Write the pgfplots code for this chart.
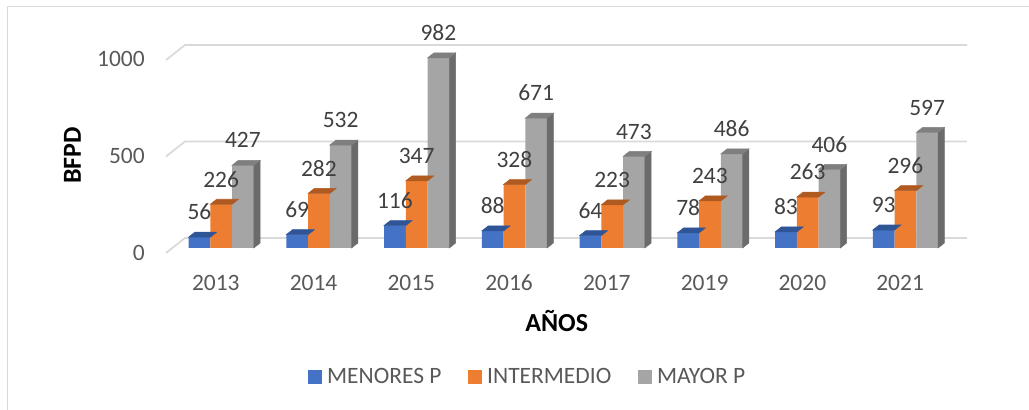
\documentclass[border=0pt]{standalone}
\usepackage{pgfplots}
\pgfplotsset{compat=1.18}
\usepackage{pgfplotstable}
\usepackage{fontspec}
\setmainfont{Carlito}
\definecolor{blueF}{HTML}{4472C4}
\definecolor{blueT}{HTML}{2F5597}
\definecolor{orangeF}{HTML}{ED7D31}
\definecolor{orangeT}{HTML}{AE5A21}
\definecolor{grayF}{HTML}{A5A5A5}
\definecolor{grayT}{HTML}{7F7F7F}
\definecolor{grayS}{HTML}{6B6B6B}
\definecolor{gridc}{HTML}{D9D9D9}
\definecolor{tickc}{HTML}{595959}
\definecolor{labc}{HTML}{404040}
\pgfdeclareplotmark{nothing}{}
\pgfplotstableread{
x menores inter mayor
0 56 226 427
1 69 282 532
2 116 347 982
3 88 328 671
4 64 223 473
5 78 243 486
6 83 263 406
7 93 296 597
}\datatable
\newcommand\topface[2]{\fill[#2] ({#1-8.15pt},0pt) -- ({#1+8.15pt},0pt) -- ({#1+12.875pt},3.75pt) -- ({#1-3.425pt},3.75pt) -- cycle;}
\newcommand\lblfont{\fontsize{17.6}{21}\selectfont}
\newcommand\ttlfont{\fontsize{19.5}{23}\selectfont\bfseries}
\begin{document}
\begin{tikzpicture}
\useasboundingbox (0,0) rectangle (771.75pt,307.5pt);
\draw[gridc, line width=0.75pt] (5.25pt,-2pt) -- (5.25pt,302.25pt) -- (775pt,302.25pt);
\foreach \yb/\yf in {129/117.75, 201.375/190.125, 273.75/262.5}{
  \draw[gridc, line width=1.3pt] (124.5pt,\yf pt) -- (138.75pt,\yb pt) -- (725.25pt,\yb pt);
}
\begin{axis}[
  at={(129.225pt,121.5pt)}, anchor=south west,
  scale only axis, width=586.5pt, height=145.125pt,
  xmin=-0.5, xmax=7.5, ymin=0, ymax=1000,
  clip=false,
  axis line style={draw=none}, tick style={draw=none}, major tick length=0pt,
  xtick={0,...,7}, xticklabels={2013,2014,2015,2016,2017,2019,2020,2021},
  ytick={0,500,1000}, yticklabels={0,500,1000},
  /pgf/number format/assume math mode=true,
  tick label style={font=\lblfont, text=tickc, inner sep=0pt},
  xticklabel style={anchor=center, xshift=-4pt, yshift=-25.9pt},
  yticklabel style={anchor=east, xshift=-20.5pt, yshift=-3.4pt},
  xlabel={AÑOS}, ylabel={BFPD},
  every axis x label/.style={at={(axis description cs:0.4916,-0.378)}, anchor=center, font=\ttlfont, text=black},
  every axis y label/.style={at={(axis description cs:-0.1276,0.478)}, anchor=center, rotate=90, font=\ttlfont, text=black},
  legend columns=3,
  legend style={at={(0.4549,-0.6667)}, anchor=center, draw=none, fill=none, font=\lblfont, text=tickc,
    /tikz/every even column/.append style={column sep=18pt}},
]
\addlegendimage{legend image code/.code={\fill[blueF] (0pt,-4.7pt) rectangle (9.4pt,4.7pt); \path[draw=none,fill=none] (0pt,0pt) (12.1pt,0pt);}}
\addlegendentry{MENORES P}
\addlegendimage{legend image code/.code={\fill[orangeF] (0pt,-4.7pt) rectangle (9.4pt,4.7pt); \path[draw=none,fill=none] (0pt,0pt) (12.1pt,0pt);}}
\addlegendentry{INTERMEDIO}
\addlegendimage{legend image code/.code={\fill[grayF] (0pt,-4.7pt) rectangle (9.4pt,4.7pt); \path[draw=none,fill=none] (0pt,0pt) (12.1pt,0pt);}}
\addlegendentry{MAYOR P}

% MENORES P
\addplot[ybar, bar width=16.3pt, bar shift=-16.3pt, fill=blueF, draw=none, forget plot] table[x=x,y=menores]{\datatable};
\addplot[scatter, only marks, mark=nothing, forget plot,
   scatter/@pre marker code/.code={\topface{-16.3pt}{blueT}},
   scatter/@post marker code/.code={}] table[x=x,y=menores]{\datatable};
% INTERMEDIO
\addplot[ybar, bar width=16.3pt, bar shift=0pt, fill=orangeF, draw=none, forget plot] table[x=x,y=inter]{\datatable};
\addplot[scatter, only marks, mark=nothing, forget plot,
   scatter/@pre marker code/.code={\topface{0pt}{orangeT}},
   scatter/@post marker code/.code={}] table[x=x,y=inter]{\datatable};
% MAYOR P
\addplot[ybar, bar width=16.3pt, bar shift=16.3pt, fill=grayF, draw=none, forget plot] table[x=x,y=mayor]{\datatable};
\addplot[scatter, only marks, mark=nothing, forget plot,
   visualization depends on={\thisrow{mayor}\as\rawy},
   scatter/@pre marker code/.code={%
     \fill[grayS] (24.45pt,0pt) -- (29.175pt,3.75pt) -- (29.175pt,{3.75pt-\rawy*0.145125pt}) -- (24.45pt,{-\rawy*0.145125pt}) -- cycle;
     \topface{16.3pt}{grayT}},
   scatter/@post marker code/.code={}] table[x=x,y=mayor]{\datatable};

% data labels
\addplot[draw=none, forget plot, point meta=y, nodes near coords,
  every node near coord/.append style={font=\lblfont, text=labc, anchor=center, inner sep=0pt, xshift=-16.3pt, yshift=18.75pt}]
  table[x=x,y=menores]{\datatable};
\addplot[draw=none, forget plot, point meta=y, nodes near coords,
  every node near coord/.append style={font=\lblfont, text=labc, anchor=center, inner sep=0pt, xshift=0pt, yshift=18.75pt}]
  table[x=x,y=inter]{\datatable};
\addplot[draw=none, forget plot, point meta=y, nodes near coords,
  every node near coord/.append style={font=\lblfont, text=labc, anchor=center, inner sep=0pt, xshift=16.3pt, yshift=18.75pt}]
  table[x=x,y=mayor]{\datatable};
\end{axis}
\end{tikzpicture}
\end{document}
